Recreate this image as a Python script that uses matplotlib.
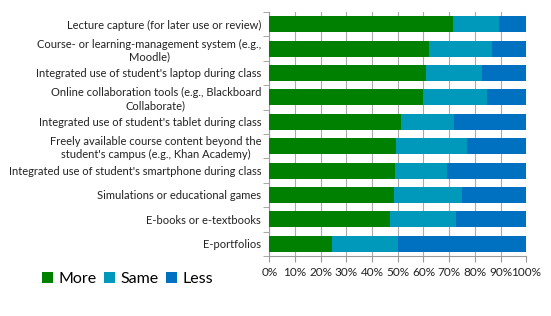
import matplotlib.pyplot as plt
import numpy as np
from matplotlib.ticker import FixedLocator, PercentFormatter

categories = [
    'Lecture capture (for later use or review)',
    'Course- or learning-management system (e.g.,\nMoodle)',
    "Integrated use of student's laptop during class",
    'Online collaboration tools (e.g., Blackboard\nCollaborate)',
    "Integrated use of student's tablet during class",
    "Freely available course content beyond the\nstudent's campus (e.g., Khan Academy)",
    "Integrated use of student's smartphone during class",
    'Simulations or educational games',
    'E-books or e-textbooks',
    'E-portfolios',
]
more = [71.5, 62.2, 61.0, 59.8, 51.2, 49.4, 49.0, 48.5, 47.1, 24.3]
same = [18.0, 24.5, 21.7, 25.1, 20.6, 27.5, 20.3, 26.4, 25.5, 25.8]
less = [100 - m - s for m, s in zip(more, same)]

colors = ['#008000', '#0099bb', '#0070c0']
labels = ['More', 'Same', 'Less']


def main():
    plt.rcParams['font.family'] = ['Lato', 'DejaVu Sans']
    fig = plt.figure(figsize=(5.51, 3.16), dpi=100)
    ax = fig.add_axes([0.489, 0.19, 0.466, 0.772])

    y = np.arange(len(categories))
    left = np.zeros(len(categories))
    for vals, c, lab in zip([more, same, less], colors, labels):
        ax.barh(y, vals, left=left, height=0.66, color=c, label=lab, zorder=3)
        left += np.array(vals)

    ax.set_xlim(0, 100)
    ax.set_ylim(len(categories) - 0.5, -0.5)
    ax.set_xticks(np.arange(0, 101, 10))
    ax.xaxis.set_major_formatter(PercentFormatter(decimals=0))
    ax.set_yticks(y)
    ax.set_yticklabels(categories, fontsize=8, color='#222222')
    ax.yaxis.set_minor_locator(FixedLocator(np.arange(-0.5, len(categories), 1)))
    ax.tick_params(axis='y', which='major', length=0, pad=6)
    ax.tick_params(axis='y', which='minor', length=4, color='#999999')
    ax.tick_params(axis='x', length=4, color='#999999', labelsize=8.5,
                   labelcolor='#222222', pad=4)
    for lab in ax.get_yticklabels():
        lab.set_horizontalalignment('right')
        lab.set_multialignment('center')

    ax.grid(axis='x', color='#aaaaaa', linewidth=0.8, zorder=0)
    for s in ['top', 'right']:
        ax.spines[s].set_visible(False)
    ax.spines['left'].set_color('#999999')
    ax.spines['bottom'].set_color('#999999')

    fig.legend(loc='lower left', bbox_to_anchor=(0.062, 0.07), ncol=3,
               frameon=False, fontsize=11.5, handlelength=0.7, handleheight=0.7,
               handletextpad=0.3, columnspacing=0.5, borderpad=0)

    fig.savefig('out.png', dpi=100)


if __name__ == '__main__':
    main()
